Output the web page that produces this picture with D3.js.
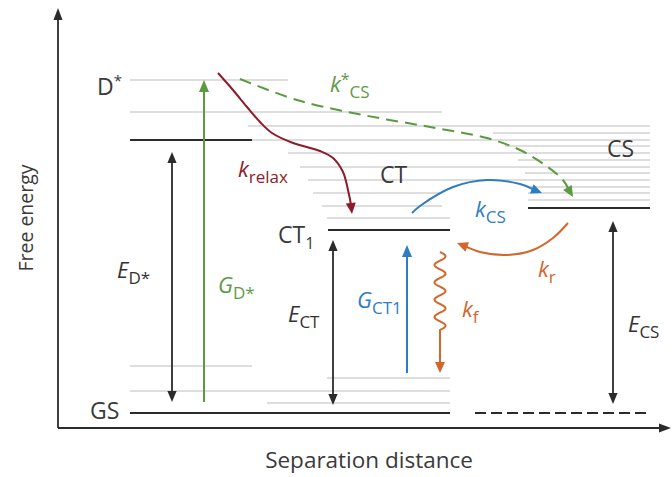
<!DOCTYPE html>
<html><head><meta charset="utf-8">
<script src="https://cdn.jsdelivr.net/npm/d3@7"></script>
<style>body{margin:0;background:#fff}svg{display:block}text{font-family:"Open Sans",sans-serif}</style>
</head><body><svg id="c" width="672" height="477"></svg>
<script>
// ---- data (distance units from y-axis, energy units above x-axis) ----
const greyLevels = [ // [x1, x2, energy]
  [72,230,348],[72,384,316],[190,592,302],[194,592,288],[230,592,275],[242,592,261],[250,592,248],
  [255,384,235],[264,384,222],[269,392,210],
  [435,592,295],[447,592,282],[460,592,268],[467,592,255],[470,592,241],[470,592,235],[470,592,228],
  [72,194,62],[269,392,50],[72,392,37],[209,392,25]
];
const blackLevels = [ // [x1, x2, energy]
  [72,194,288],[270,392,198],[470,592,220],[72,392,15]
];
const dashedLevels = [[417,592,15]];
const doubleArrows = [ // [x, eTop, eBottom]
  [114,276,26],[275,188,23],[555,207,24]
];
const upArrows = [ // [x, eFrom, eTo, color]
  [146,26,348,"#5b9a3f"],[349,55,183,"#2f7dc1"]
];
const relaxPath = [[160,355],[175,338],[189,321],[202,306],[214,295],[235,285],[262,277],[275,270],[285,256],[290,238],[293,223],[294,214]];
const kcsStarPath = [[182,349],[239,328],[305,313],[372,301],[429,290],[462,278],[487,263],[505,248],[515,231]];
const kcsPath = [[354,215],[362,222],[395,241],[429,248],[462,244],[484,235]];
const krPath = [[510,205],[495,190],[475,178],[449,173],[422,176],[399,185]];
const kfWave = {x:382, eTop:176, eWaveEnd:98, eTip:55, periods:4.5, amp:5.5};
const stateLabels = [ // [text, sub/sup, mode, x, e]
  ["D","*","sup",39,333],["GS","","",32,9],["CT","","",322,245],["CS","","",549,271],["CT","1","sub",220,185]
];
const rateLabels = [ // [main, italic?, sub, sup, x, e, color]
  ["k",true,"CS","*",272,336,"#5e9a45"],
  ["k",true,"relax","",180,251,"#8e1b2a"],
  ["k",true,"CS","",417,211,"#2f7dc1"],
  ["k",true,"r","",480,151,"#d2662b"],
  ["k",true,"f","",404,111,"#d2662b"],
  ["E",true,"D*","",59,150,"#333"],
  ["G",true,"D*","",160,135,"#5e9a45"],
  ["E",true,"CT","",230,106,"#333"],
  ["G",true,"CT1","",299,120,"#2f7dc1"],
  ["E",true,"CS","",570,96,"#333"]
];
const axisTitles = {y:"Free energy", x:"Separation distance"};

// ---- scales ----
const x = d3.scaleLinear().domain([0,614]).range([58,672]);
const y = d3.scaleLinear().domain([0,420]).range([428,8]);
const svg = d3.select("#c");

function head(g, tx, ty, ang, color, len=11, hw=4.6){
  const bx = tx - len*Math.cos(ang), by = ty - len*Math.sin(ang);
  const px = -Math.sin(ang)*hw, py = Math.cos(ang)*hw;
  g.append("path").attr("d",`M${tx},${ty}L${bx+px},${by+py}L${bx-px},${by-py}Z`).attr("fill",color);
}

// grey levels
svg.append("g").selectAll("line").data(greyLevels).join("line")
  .attr("x1",d=>x(d[0])).attr("x2",d=>x(d[1])).attr("y1",d=>y(d[2])).attr("y2",d=>y(d[2]))
  .attr("stroke","#d3d3d3").attr("stroke-width",1.3);
svg.append("g").selectAll("line").data(blackLevels).join("line")
  .attr("x1",d=>x(d[0])).attr("x2",d=>x(d[1])).attr("y1",d=>y(d[2])).attr("y2",d=>y(d[2]))
  .attr("stroke","#2b2b2b").attr("stroke-width",2);
svg.append("g").selectAll("line").data(dashedLevels).join("line")
  .attr("x1",d=>x(d[0])).attr("x2",d=>x(d[1])).attr("y1",d=>y(d[2])).attr("y2",d=>y(d[2]))
  .attr("stroke","#2b2b2b").attr("stroke-width",2).attr("stroke-dasharray","11,5");

// axes
const ax = svg.append("g");
ax.append("line").attr("x1",x(0)).attr("x2",x(0)).attr("y1",y(0)).attr("y2",y(408)).attr("stroke","#2b2b2b").attr("stroke-width",1.8);
head(ax,x(0),y(420),-Math.PI/2,"#2b2b2b",12,4.5);
ax.append("line").attr("x1",x(0)).attr("x2",x(602)).attr("y1",y(0)).attr("y2",y(0)).attr("stroke","#2b2b2b").attr("stroke-width",1.8);
head(ax,x(613),y(0),0,"#2b2b2b",12,4.5);

// vertical arrows
const va = svg.append("g");
doubleArrows.forEach(d=>{
  va.append("line").attr("x1",x(d[0])).attr("x2",x(d[0])).attr("y1",y(d[1])+8).attr("y2",y(d[2])-8).attr("stroke","#2b2b2b").attr("stroke-width",1.8);
  head(va,x(d[0]),y(d[1]),-Math.PI/2,"#2b2b2b");
  head(va,x(d[0]),y(d[2]),Math.PI/2,"#2b2b2b");
});
upArrows.forEach(d=>{
  va.append("line").attr("x1",x(d[0])).attr("x2",x(d[0])).attr("y1",y(d[1])).attr("y2",y(d[2])+8).attr("stroke",d[3]).attr("stroke-width",2);
  head(va,x(d[0]),y(d[2]),-Math.PI/2,d[3],12,5);
});

// curved arrows
function curveArrow(pts,color,dash,width){
  const line = d3.line().x(d=>x(d[0])).y(d=>y(d[1])).curve(d3.curveCatmullRom.alpha(0.5));
  const P = pts.map(p=>[p[0],p[1]]);
  const n = P.length;
  const tx=x(P[n-1][0]), ty=y(P[n-1][1]), sx=x(P[n-2][0]), sy=y(P[n-2][1]);
  const ang = Math.atan2(ty-sy, tx-sx);
  const short = P.slice(0,n-1).concat([[x.invert(tx-8*Math.cos(ang)), y.invert(ty-8*Math.sin(ang))]]);
  const p = svg.append("path").attr("d",line(short)).attr("fill","none").attr("stroke",color).attr("stroke-width",width);
  if(dash) p.attr("stroke-dasharray",dash);
  head(svg,tx,ty,ang,color,11,5);
}
curveArrow(relaxPath,"#8e1b2a",null,2);
curveArrow(kcsStarPath,"#5b9a3f","12,7",2);
curveArrow(kcsPath,"#2f7dc1",null,2);
curveArrow(krPath,"#d2662b",null,2);

// wavy k_f
(function(){
  const w=kfWave, N=200, pts=[];
  const y0=y(w.eTop), y1=y(w.eWaveEnd);
  for(let i=0;i<=N;i++){const t=i/N; pts.push([x(w.x)+w.amp*Math.sin(t*w.periods*2*Math.PI), y0+(y1-y0)*t]);}
  pts.push([x(w.x)+w.amp*Math.sin(w.periods*2*Math.PI), y(w.eTip)-8]);
  svg.append("path").attr("d",d3.line()(pts)).attr("fill","none").attr("stroke","#d2662b").attr("stroke-width",2);
  head(svg,x(w.x),y(w.eTip),Math.PI/2,"#d2662b",11,5);
})();

// state labels
stateLabels.forEach(d=>{
  const t = svg.append("text").attr("x",x(d[3])).attr("y",y(d[4])).attr("font-size",23).attr("fill","#3a3a3a").text(d[0]);
  if(d[2]==="sup") t.append("tspan").attr("font-size",15).attr("dy",-9).text(d[1]);
  if(d[2]==="sub") t.append("tspan").attr("font-size",16).attr("dy",6).text(d[1]);
});
// rate / energy labels
rateLabels.forEach(d=>{
  const t = svg.append("text").attr("x",x(d[4])).attr("y",y(d[5])).attr("font-size",22).attr("fill",d[6]);
  t.append("tspan").attr("font-style",d[1]?"italic":"normal").text(d[0]);
  if(d[3]) t.append("tspan").attr("font-size",16).attr("dy",-7).text(d[3]);
  if(d[2]) t.append("tspan").attr("font-size",17).attr("dy",d[3]?13:6).text(d[2]);
});

// axis titles
svg.append("text").attr("transform",`translate(33,${y(210)}) rotate(-90)`).attr("text-anchor","middle")
  .attr("font-size",19.5).attr("fill","#3a3a3a").text(axisTitles.y);
svg.append("text").attr("x",x(311)).attr("y",468).attr("text-anchor","middle")
  .attr("font-size",22.5).attr("fill","#3a3a3a").text(axisTitles.x);
</script></body></html>
